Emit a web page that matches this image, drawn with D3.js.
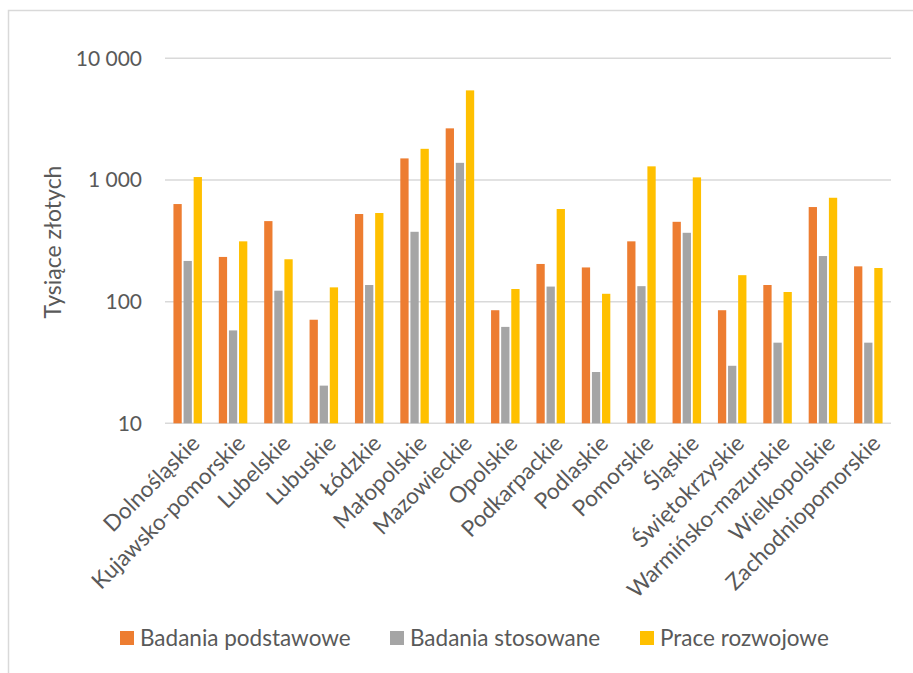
<!DOCTYPE html>
<html>
<head>
<meta charset="utf-8">
<script src="https://cdn.jsdelivr.net/npm/d3@7"></script>
<style>
  body { margin: 0; background: #fff; }
  svg { display: block; font-family: Lato, "Open Sans", sans-serif; }
</style>
</head>
<body>
<div id="chart"></div>
<script>
// Data (thousands of PLN, log scale)
const regions = ["Dolnośląskie", "Kujawsko-pomorskie", "Lubelskie", "Lubuskie", "Łódzkie",
  "Małopolskie", "Mazowieckie", "Opolskie", "Podkarpackie", "Podlaskie", "Pomorskie",
  "Śląskie", "Świętokrzyskie", "Warmińsko-mazurskie", "Wielkopolskie", "Zachodniopomorskie"];
const seriesNames = ["Badania podstawowe", "Badania stosowane", "Prace rozwojowe"];
const podstawowe = [634, 233, 459, 71, 525, 1504, 2656, 85, 204, 191, 313, 453, 85, 137, 599, 195];
const stosowane  = [216, 58, 123, 20.4, 137, 375, 1383, 62, 133, 26.4, 134, 368, 29.7, 46, 237, 46];
const rozwojowe  = [1057, 313, 223, 131, 535, 1803, 5449, 127, 577, 116, 1294, 1050, 165, 120, 714, 189];
const yTicks = [10, 100, 1000, 10000];
const colors = ["#ED7D31", "#A5A5A5", "#FFC000"];

const seriesValues = [podstawowe, stosowane, rozwojowe];
const width = 913, height = 673;
const margin = { top: 58.3, right: 22, bottom: 249.7, left: 165 };
const textColor = "#595959";

const svg = d3.select("#chart").append("svg")
  .attr("width", width)
  .attr("height", height);

// chart frame
svg.append("rect")
  .attr("x", 8.5).attr("y", 10.5)
  .attr("width", 1000).attr("height", 1000)
  .attr("fill", "none").attr("stroke", "#d9d9d9").attr("stroke-width", 1.5);

const x = d3.scaleBand()
  .domain(regions)
  .range([margin.left, width - margin.right])
  .padding(0);

const x1 = d3.scaleBand()
  .domain(seriesNames)
  .range([-14.25, 14.25])
  .paddingInner(0.18);

const y = d3.scaleLog()
  .domain([10, 10000])
  .range([height - margin.bottom, margin.top]);

// gridlines
svg.append("g")
  .selectAll("line")
  .data(yTicks)
  .enter().append("line")
  .attr("x1", margin.left)
  .attr("x2", width - margin.right)
  .attr("y1", d => y(d))
  .attr("y2", d => y(d))
  .attr("stroke", "#d9d9d9")
  .attr("stroke-width", 1.5);

// y tick labels
svg.append("g")
  .selectAll("text")
  .data(yTicks)
  .enter().append("text")
  .attr("x", 142)
  .attr("y", d => y(d))
  .attr("dy", "0.35em")
  .attr("text-anchor", "end")
  .attr("font-size", 21)
  .attr("fill", textColor)
  .text(d => d3.format(",")(d).replace(/,/g, " "));

// y title
svg.append("text")
  .attr("transform", "translate(53,242) rotate(-90)")
  .attr("text-anchor", "middle")
  .attr("dy", "0.35em")
  .attr("font-size", 23)
  .attr("fill", textColor)
  .text("Tysiące złotych");

// bars
const rows = regions.map((r, i) => ({ region: r, values: seriesNames.map((s, j) => ({ s, v: seriesValues[j][i], c: colors[j] })) }));

const groups = svg.append("g")
  .selectAll("g")
  .data(rows)
  .enter().append("g")
  .attr("transform", d => `translate(${x(d.region) + x.bandwidth() / 2},0)`);

groups.selectAll("rect")
  .data(d => d.values)
  .enter().append("rect")
  .attr("x", d => x1(d.s))
  .attr("width", x1.bandwidth())
  .attr("y", d => y(d.v))
  .attr("height", d => y(10) - y(d.v))
  .attr("fill", d => d.c);

// x labels
svg.append("g")
  .selectAll("text")
  .data(regions)
  .enter().append("text")
  .attr("transform", d => `translate(${x(d) + x.bandwidth() / 2 + 8},${y(10) + 16}) rotate(-45)`)
  .attr("text-anchor", "end")
  .attr("dy", "0.35em")
  .attr("font-size", 22.5)
  .attr("fill", textColor)
  .text(d => d);

// legend
const legendX = [120, 390, 640];
const legend = svg.append("g")
  .selectAll("g")
  .data(seriesNames)
  .enter().append("g")
  .attr("transform", (d, i) => `translate(${legendX[i]},631)`);

legend.append("rect")
  .attr("width", 14).attr("height", 14)
  .attr("fill", (d, i) => colors[i]);

legend.append("text")
  .attr("x", 20)
  .attr("y", 7)
  .attr("dy", "0.35em")
  .attr("font-size", 22.5)
  .attr("fill", textColor)
  .text(d => d);
</script>
</body>
</html>
